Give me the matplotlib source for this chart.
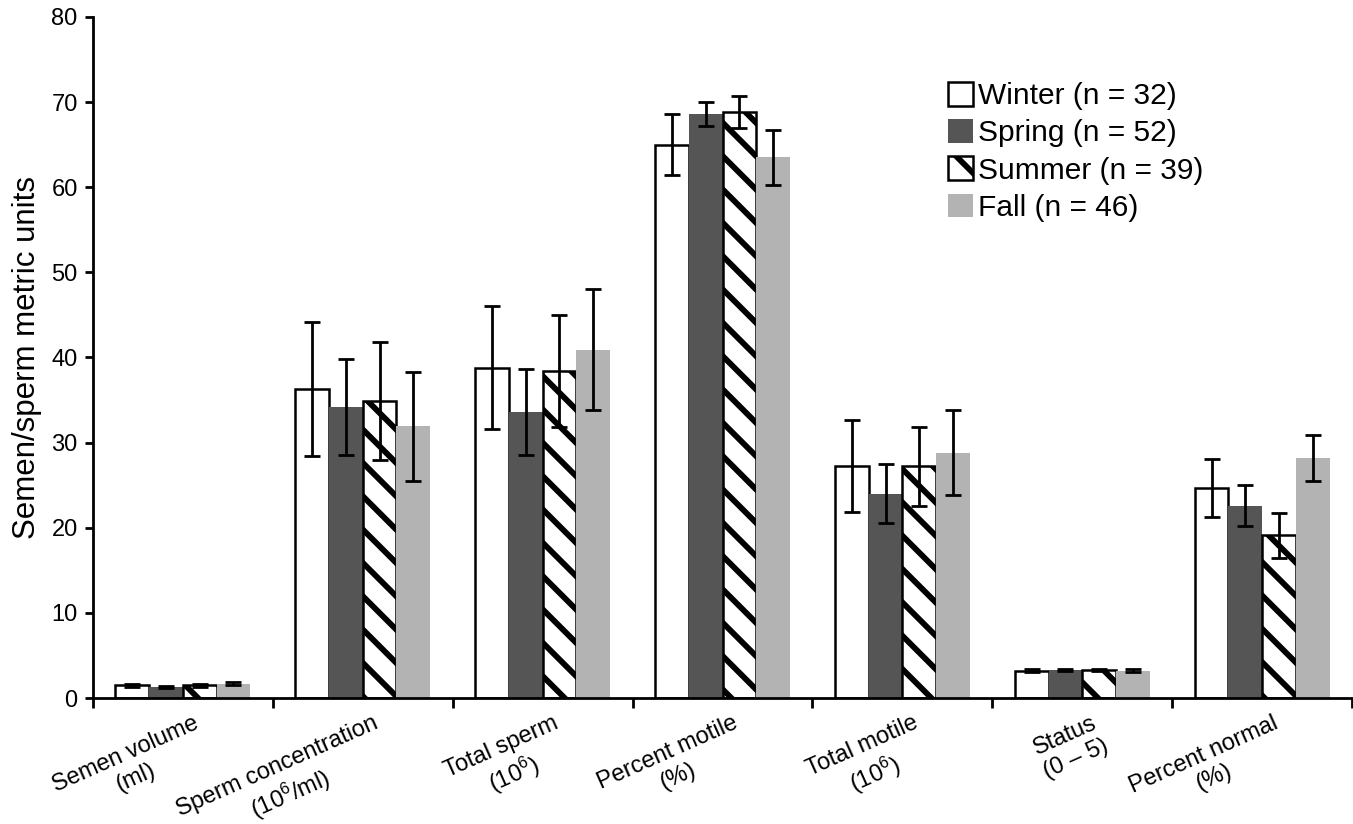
import numpy as np
import matplotlib
matplotlib.use("Agg")
from matplotlib import pyplot as plt
from matplotlib.ticker import MultipleLocator, FixedLocator
from matplotlib.transforms import ScaledTranslation

plt.rcParams['font.family'] = ['Liberation Sans', 'DejaVu Sans']
plt.rcParams['mathtext.default'] = 'regular'
plt.rcParams['hatch.linewidth'] = 4.2
plt.rcParams['hatch.color'] = 'black'

categories = ['Semen volume\n(ml)', 'Sperm concentration\n(10$^6$/ml)',
              'Total sperm\n(10$^6$)', 'Percent motile\n(%)',
              'Total motile\n(10$^6$)', 'Status\n(0 \u2013 5)',
              'Percent normal\n(%)']
seasons = ['Winter (n = 32)', 'Spring (n = 52)', 'Summer (n = 39)', 'Fall (n = 46)']

winter = [1.5, 36.3, 38.8, 65.0, 27.3, 3.2, 24.7]
spring = [1.3, 34.2, 33.6, 68.6, 24.0, 3.3, 22.6]
summer = [1.5, 34.9, 38.4, 68.8, 27.2, 3.3, 19.1]
fall = [1.7, 31.9, 40.9, 63.5, 28.8, 3.2, 28.2]

winter_err = [0.2, 7.9, 7.2, 3.6, 5.4, 0.15, 3.4]
spring_err = [0.15, 5.6, 5.0, 1.4, 3.5, 0.1, 2.4]
summer_err = [0.15, 6.9, 6.6, 1.9, 4.6, 0.1, 2.6]
fall_err = [0.2, 6.4, 7.1, 3.2, 5.0, 0.15, 2.7]

values = [winter, spring, summer, fall]
errors = [winter_err, spring_err, summer_err, fall_err]
styles = [
    dict(color='white', edgecolor='black', linewidth=1.8),
    dict(color='#555555', edgecolor='#555555', linewidth=0),
    dict(color='white', edgecolor='black', linewidth=1.8, hatch='\\'),
    dict(color='#b3b3b3', edgecolor='#b3b3b3', linewidth=0),
]

fig = plt.figure(figsize=(13.53, 8.24), dpi=100)
ax = fig.add_axes([0.0687, 0.1529, 0.9306, 0.8265])

x = np.arange(len(categories))
width = 0.1875
for i in range(4):
    pos = x + (i - 1.5) * width
    ax.bar(pos, values[i], width=width, label=seasons[i], zorder=2, **styles[i])
    ax.errorbar(pos, values[i], yerr=errors[i], fmt='none', ecolor='black',
                elinewidth=2, capsize=6, capthick=2, zorder=3)

ax.set_xlim(-0.5, len(categories) - 0.5)
ax.set_ylim(0, 80)
ax.yaxis.set_major_locator(MultipleLocator(10))
ax.xaxis.set_major_locator(FixedLocator(np.arange(len(categories) + 1) - 0.5))
ax.xaxis.set_minor_locator(FixedLocator(x))
ax.set_xticklabels([])
ax.set_xticklabels(categories, minor=True, rotation=24, ha='right', va='top',
                   rotation_mode='anchor', multialignment='center', fontsize=17)
ax.tick_params(axis='x', which='minor', length=0, pad=10)
ax.tick_params(axis='x', which='major', length=7, width=2, direction='out')
ax.tick_params(axis='y', length=6, width=2, direction='out', labelsize=17, pad=5)
# shift the rotated category names so their top-right corner sits right of centre
offset = ScaledTranslation(0.1, 0, fig.dpi_scale_trans)
for label in ax.get_xticklabels(minor=True):
    label.set_transform(label.get_transform() + offset)

for side in ['top', 'right']:
    ax.spines[side].set_visible(False)
for side in ['left', 'bottom']:
    ax.spines[side].set_linewidth(2)

ax.set_ylabel('Semen/sperm metric units', fontsize=22.5, labelpad=7)

ax.legend(loc='upper left', bbox_to_anchor=(0.6696, 0.922), frameon=False,
          fontsize=21.5, handlelength=0.85, handleheight=0.85,
          handletextpad=0.15, labelspacing=0.3, borderaxespad=0)

fig.savefig('out.png', dpi=100)
